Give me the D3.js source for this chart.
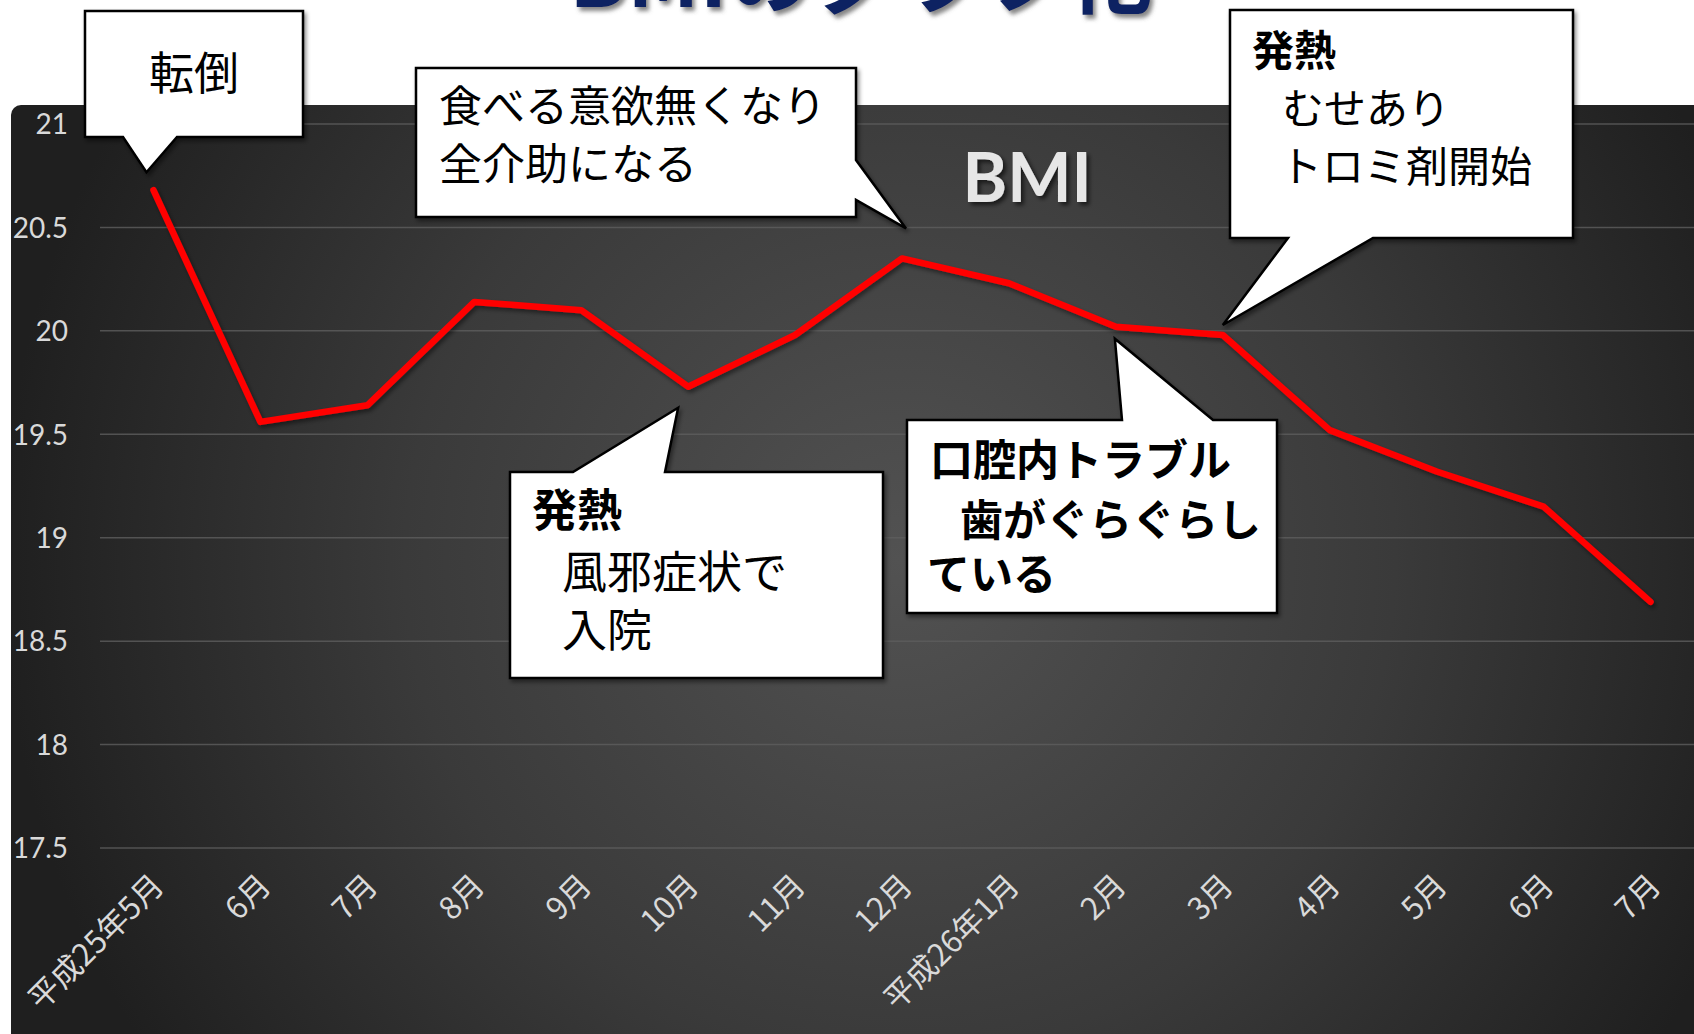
<!DOCTYPE html>
<html><head><meta charset="utf-8">
<script src="https://cdn.jsdelivr.net/npm/d3@7"></script>
<style>html,body{margin:0;padding:0;background:#fff;overflow:hidden}</style>
</head><body>
<svg id="c" width="1694" height="1034"></svg>
<script>
// ---- data ----
const categories = ["平成25年5月","6月","7月","8月","9月","10月","11月","12月","平成26年1月","2月","3月","4月","5月","6月","7月"];
const bmiValues = [20.68,19.56,19.64,20.14,20.10,19.73,19.98,20.35,20.23,20.02,19.98,19.52,19.32,19.15,18.69];
const yTicks = [17.5,18,18.5,19,19.5,20,20.5,21];
const yTickLabels = ["17.5","18","18.5","19","19.5","20","20.5","21"];
const titleText = "BMIのグラフ化";
const seriesName = "BMI";
const noteIndex = [0,7,10,5,9];
const noteLines = [
  ["転倒"],
  ["食べる意欲無くなり","全介助になる"],
  ["発熱","むせあり","トロミ剤開始"],
  ["発熱","風邪症状で","入院"],
  ["口腔内トラブル","歯がぐらぐらし","ている"]
];
const noteBold = [
  [false],
  [false,false],
  [true,false,false],
  [true,false,false],
  [true,true,true]
];

// ---- layout (positions / styles) ----
const W = 1694, H = 1034;
const plot = {left:100, right:1704, top:124, bottom:848};
const noteLayout = [
  {box:[85,11,303,137], side:"bottom", base:[123,177], tip:[-7,-18], fs:45, anchor:"middle", tx:[194], ty:[73]},
  {box:[416,68,856,217], side:"right", base:[160,200], tip:[4,-30], fs:43, anchor:"start", tx:[439,439], ty:[106,164]},
  {box:[1230,10,1573,238], side:"bottom", base:[1288,1373], tip:[0,-10], fs:42, anchor:"start", tx:[1252,1282,1280], ty:[50,108,166]},
  {box:[510,472,883,678], side:"top", base:[573,665], tip:[-10,21], fs:45, anchor:"start", tx:[532,562,562], ty:[510,572,630]},
  {box:[907,420,1277,613], side:"top", base:[1122,1213], tip:[-1,12], fs:43, anchor:"start", tx:[930,960,927], ty:[460,520,574]}
];

const svg = d3.select("#c");
const defs = svg.append("defs");
const rg = defs.append("radialGradient").attr("id","bg")
  .attr("gradientUnits","userSpaceOnUse").attr("cx",900).attr("cy",560).attr("r",900);
rg.append("stop").attr("offset","0").attr("stop-color","#525252");
rg.append("stop").attr("offset","0.55").attr("stop-color","#3a3a3a");
rg.append("stop").attr("offset","1").attr("stop-color","#1f1f1f");
const sh = defs.append("filter").attr("id","sh").attr("x","-10%").attr("y","-10%").attr("width","130%").attr("height","130%");
sh.append("feDropShadow").attr("dx",2).attr("dy",3).attr("stdDeviation",2).attr("flood-color","#000").attr("flood-opacity",0.45);
const sh2 = defs.append("filter").attr("id","sh2").attr("x","-10%").attr("y","-20%").attr("width","130%").attr("height","150%");
sh2.append("feDropShadow").attr("dx",3).attr("dy",3).attr("stdDeviation",2).attr("flood-color","#000").attr("flood-opacity",0.6);
const sh3 = defs.append("filter").attr("id","sh3").attr("x","-10%").attr("y","-50%").attr("width","130%").attr("height","250%");
sh3.append("feDropShadow").attr("dx",3).attr("dy",4).attr("stdDeviation",2).attr("flood-color","#555").attr("flood-opacity",0.7);

// title (cut off at top, as in the reference)
svg.append("text").attr("x",569).attr("y",7)
  .attr("font-family","'Noto Sans CJK JP'").attr("font-weight",700).attr("font-size",85)
  .attr("fill","#0d2462").attr("filter","url(#sh3)").text(titleText);

// chart background
svg.append("rect").attr("x",11).attr("y",105).attr("width",W+20).attr("height",H+20)
  .attr("rx",10).attr("fill","url(#bg)");

const x = d3.scalePoint().domain(d3.range(categories.length)).range([plot.left, plot.right]).padding(0.5);
const y = d3.scaleLinear().domain([17.5,21]).range([plot.bottom, plot.top]);

// gridlines
svg.append("g").selectAll("line").data(yTicks).join("line")
  .attr("x1",plot.left).attr("x2",W).attr("y1",d=>y(d)).attr("y2",d=>y(d))
  .attr("stroke","#5e5e5e").attr("stroke-width",1.5).attr("opacity",0.8);

// y axis
const yAxis = d3.axisLeft(y).tickValues(yTicks).tickFormat((d,i)=>yTickLabels[i]).tickSize(0).tickPadding(0);
const ya = svg.append("g").attr("transform","translate(68,0)").call(yAxis);
ya.select(".domain").remove();
ya.selectAll("text").attr("font-family","Lato").attr("font-size",28).attr("fill","#d9d9d9").attr("dy","0.35em");

// x axis
const xAxis = d3.axisBottom(x).tickFormat(i=>categories[i]).tickSize(0).tickPadding(0);
const xa = svg.append("g").attr("transform","translate(0,880)").call(xAxis);
xa.select(".domain").remove();
xa.selectAll("text").attr("font-family","'Noto Sans CJK JP'").attr("font-size",31).attr("fill","#d9d9d9")
  .attr("text-anchor","end").attr("dy","0.35em").attr("transform","translate(4,0) rotate(-45)");

// series label
svg.append("text").attr("x",1027).attr("y",202).attr("text-anchor","middle")
  .attr("font-family","Lato").attr("font-weight",700).attr("font-size",68)
  .attr("fill","#e6e6e6").attr("filter","url(#sh2)").text(seriesName);

// line
const line = d3.line().x((d,i)=>x(i)).y(d=>y(d));
svg.append("path").datum(bmiValues).attr("d",line).attr("fill","none")
  .attr("stroke","#ff0000").attr("stroke-width",6.5).attr("stroke-linejoin","round").attr("stroke-linecap","round")
  .attr("filter","url(#sh)");

// callouts
noteLayout.forEach((L,k)=>{
  const i = noteIndex[k];
  const tx = x(i)+L.tip[0], ty = y(bmiValues[i])+L.tip[1];
  const [x0,y0,x1,y1] = L.box, [a,b] = L.base;
  let p;
  if (L.side==="bottom") p = `M${x0},${y0}H${x1}V${y1}H${b}L${tx},${ty}L${a},${y1}H${x0}Z`;
  else if (L.side==="top") p = `M${x0},${y0}H${a}L${tx},${ty}L${b},${y0}H${x1}V${y1}H${x0}Z`;
  else p = `M${x0},${y0}H${x1}V${a}L${tx},${ty}L${x1},${b}V${y1}H${x0}Z`;
  const g = svg.append("g");
  g.append("path").attr("d",p).attr("fill","#fff").attr("stroke","#000").attr("stroke-width",2.5)
    .attr("stroke-linejoin","miter").attr("filter","url(#sh)");
  noteLines[k].forEach((t,j)=>{
    g.append("text").attr("x",L.tx[j]).attr("y",L.ty[j]+0.38*L.fs)
      .attr("text-anchor",L.anchor)
      .attr("font-family","'Noto Sans CJK JP'").attr("font-size",L.fs)
      .attr("font-weight",noteBold[k][j]?700:400).attr("fill","#000").text(t);
  });
});
</script>
</body></html>
